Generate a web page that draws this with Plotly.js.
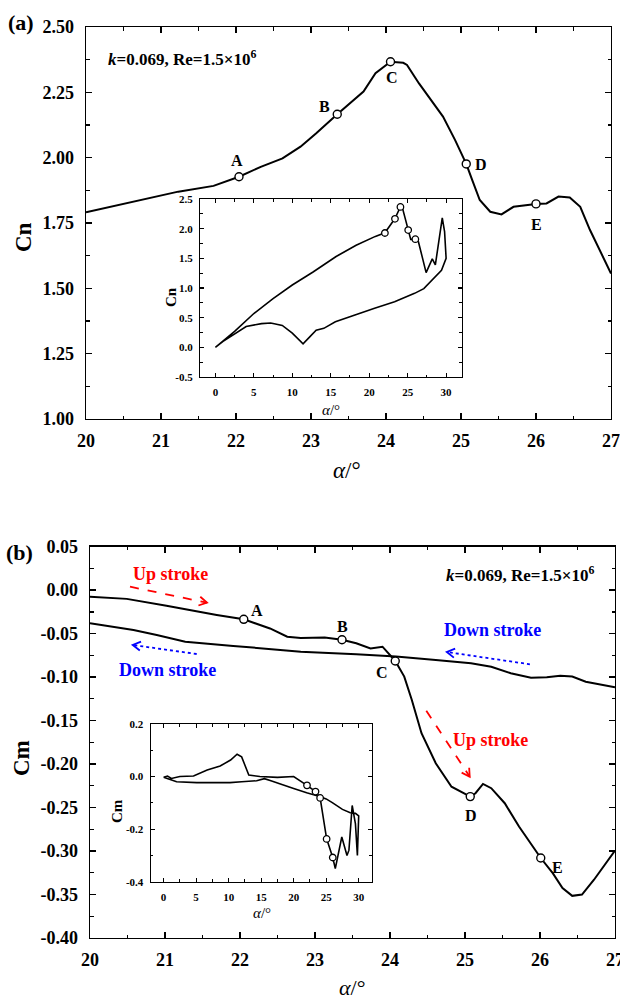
<!DOCTYPE html>
<html><head><meta charset="utf-8">
<script src="https://cdn.plot.ly/plotly-3.0.1.min.js"></script>
<style>html,body{margin:0;padding:0;background:#fff}#chart{width:620px;height:1000px}</style>
</head><body><div id="chart"></div>
<script>
// ---------- (a) main: Cn vs alpha (up stroke segment 20-27 deg) ----------
const cnAlpha = [20.0, 20.43, 20.96, 21.23, 21.70, 22.04, 22.33, 22.62, 22.86, 23.07, 23.35, 23.49, 23.70, 23.86, 23.97, 24.06, 24.23, 24.28, 24.44, 24.60, 24.76, 24.92, 25.07, 25.15, 25.25, 25.39, 25.54, 25.70, 25.88, 26.0, 26.14, 26.30, 26.45, 26.59, 26.72, 26.85, 27.0];
const cnValues = [1.791, 1.819, 1.851, 1.870, 1.892, 1.927, 1.965, 1.997, 2.042, 2.093, 2.166, 2.201, 2.253, 2.323, 2.348, 2.367, 2.363, 2.355, 2.284, 2.221, 2.157, 2.068, 1.976, 1.914, 1.838, 1.793, 1.783, 1.812, 1.819, 1.823, 1.825, 1.851, 1.848, 1.812, 1.723, 1.647, 1.557];
const pointLabels = ['A', 'B', 'C', 'D', 'E'];
const cnPointAlpha = [22.04, 23.35, 24.06, 25.07, 26.0];
const cnPointValues = [1.927, 2.166, 2.367, 1.976, 1.823];

// ---------- (a) inset: full Cn loop 0-30 deg ----------
const cnLoopAlpha = [0, 2.5, 5, 7.5, 10, 12.7, 15.7, 18.3, 20.8, 22.04, 23.35, 24.06, 24.3, 25.07, 25.4, 26.0, 26.4, 27.4, 28.2, 28.6, 29.5, 29.8, 30.0,
  29.4, 28.4, 27.1, 25.9, 23.3, 20.7, 18.2, 15.6, 14.1, 13.1, 12.3, 11.4, 10.0, 8.7, 7.2, 6.0, 4.0, 2.3, 1.0, 0];
const cnLoopValues = [0.0, 0.27, 0.57, 0.82, 1.05, 1.27, 1.53, 1.72, 1.87, 1.93, 2.17, 2.37, 2.36, 1.98, 1.82, 1.82, 1.78, 1.26, 1.49, 1.39, 2.18, 1.95, 1.50,
  1.30, 1.16, 0.99, 0.91, 0.77, 0.66, 0.55, 0.43, 0.32, 0.29, 0.18, 0.06, 0.24, 0.37, 0.41, 0.40, 0.35, 0.21, 0.10, 0.0];

// ---------- (b) main: Cm vs alpha ----------
const cmUpAlpha = [20.0, 20.49, 21.02, 21.42, 21.69, 22.05, 22.40, 22.63, 22.81, 23.13, 23.36, 23.55, 23.74, 23.90, 24.00, 24.07, 24.19, 24.29, 24.42, 24.61, 24.82, 25.07, 25.14, 25.24, 25.35, 25.53, 25.72, 25.88, 26.01, 26.17, 26.30, 26.43, 26.56, 26.72, 27.0];
const cmUpValues = [-0.0075, -0.010, -0.018, -0.0247, -0.0285, -0.0335, -0.044, -0.0535, -0.055, -0.0545, -0.057, -0.061, -0.067, -0.065, -0.0745, -0.0814, -0.0994, -0.126, -0.1645, -0.199, -0.226, -0.2374, -0.2335, -0.2228, -0.2277, -0.245, -0.2718, -0.291, -0.308, -0.3254, -0.3426, -0.3515, -0.350, -0.333, -0.2994];
const cmDownAlpha = [20.0, 20.58, 20.89, 21.27, 21.91, 22.81, 23.55, 24.08, 24.61, 25.08, 25.35, 25.61, 25.88, 26.09, 26.27, 26.43, 26.61, 27.0];
const cmDownValues = [-0.038, -0.0458, -0.0515, -0.0592, -0.0641, -0.0707, -0.0737, -0.0764, -0.0802, -0.084, -0.088, -0.0955, -0.1006, -0.100, -0.0983, -0.0994, -0.1052, -0.1116];
const cmPointAlpha = [22.05, 23.36, 24.07, 25.07, 26.01];
const cmPointValues = [-0.0335, -0.057, -0.0814, -0.2374, -0.308];

// ---------- (b) inset: full Cm loop 0-30 deg ----------
const cmLoopAlpha = [0, 0.6, 1.2, 2.5, 4.6, 6.7, 8.7, 10.3, 11.3, 12.0, 13.1, 14.8, 17.5, 20.0, 22.05, 23.36, 24.07, 24.5, 25.07, 26.01, 26.4, 27.4, 28.2, 28.5, 29.0, 29.5, 29.8, 30.0,
  29.5, 28.7, 27.5, 26.0, 25.0, 24.0, 22.0, 20.0, 18.0, 16.5, 15.5, 14.3, 12.0, 10.2, 7.0, 5.1, 2.0, 0];
const cmLoopValues = [-0.003, 0.002, -0.007, 0.0, 0.002, 0.025, 0.040, 0.063, 0.085, 0.075, 0.006, 0.0, -0.003, 0.0, -0.0335, -0.057, -0.081, -0.15, -0.237, -0.308, -0.35, -0.23, -0.30, -0.28, -0.11, -0.18, -0.30, -0.15,
  -0.14, -0.138, -0.125, -0.10, -0.085, -0.076, -0.062, -0.045, -0.03, -0.016, -0.008, -0.016, -0.02, -0.023, -0.023, -0.023, -0.02, -0.003];

// ---------- tick labels ----------
const alphaTicks = [20, 21, 22, 23, 24, 25, 26, 27];
const cnTicks = [1.00, 1.25, 1.50, 1.75, 2.00, 2.25, 2.50];
const cnTickText = ['1.00', '1.25', '1.50', '1.75', '2.00', '2.25', '2.50'];
const cmTicks = [-0.40, -0.35, -0.30, -0.25, -0.20, -0.15, -0.10, -0.05, 0.00, 0.05];
const cmTickText = ['-0.40', '-0.35', '-0.30', '-0.25', '-0.20', '-0.15', '-0.10', '-0.05', '0.00', '0.05'];
const insetAlphaTicks = [0, 5, 10, 15, 20, 25, 30];
const insetCnTicks = [-0.5, 0.0, 0.5, 1.0, 1.5, 2.0, 2.5];
const insetCnTickText = ['-0.5', '0.0', '0.5', '1.0', '1.5', '2.0', '2.5'];
const insetCmTicks = [-0.4, -0.2, 0.0, 0.2];
const insetCmTickText = ['-0.4', '-0.2', '0.0', '0.2'];

// ---------- helpers ----------
const W = 620, H = 1000;
const PX = x => x / W;
const PY = y => 1 - y / H;
const FONT = 'Liberation Serif, Times New Roman, serif';

function axis(o) {
  const big = o.big;
  const a = {
    domain: o.domain, range: o.range, anchor: o.anchor,
    showline: true, linecolor: '#000', linewidth: big ? 1.4 : 1.1, mirror: 'ticks',
    ticks: 'inside', tickcolor: '#000', tickwidth: big ? 1.4 : 1.1, ticklen: big ? 6 : 4,
    showgrid: false, zeroline: false, fixedrange: true,
    tickfont: {family: FONT, size: big ? 18 : 11, color: '#000', weight: 'bold'},
    ticklabelstandoff: o.standoff,
    ticklabeloverflow: 'allow',
    minor: {dtick: o.minor, tick0: o.minorTick0, ticks: 'inside', ticklen: big ? 3.5 : 2.5, tickwidth: big ? 1.2 : 1, tickcolor: '#000', showgrid: false}
  };
  if (o.tickvals) { a.tickmode = 'array'; a.tickvals = o.tickvals; a.ticktext = o.ticktext || o.tickvals.map(String); }
  return a;
}

const traces = [
  {x: cnAlpha, y: cnValues, xaxis: 'x', yaxis: 'y', mode: 'lines', line: {color: '#000', width: 2}, hoverinfo: 'skip'},
  {x: cnPointAlpha, y: cnPointValues, xaxis: 'x', yaxis: 'y', mode: 'markers', marker: {size: 8, color: '#fff', line: {color: '#000', width: 1.4}}, hoverinfo: 'skip'},
  {x: cnLoopAlpha, y: cnLoopValues, xaxis: 'x2', yaxis: 'y2', mode: 'lines', line: {color: '#000', width: 1.6}, hoverinfo: 'skip'},
  {x: cnPointAlpha, y: cnPointValues, xaxis: 'x2', yaxis: 'y2', mode: 'markers', marker: {size: 6.5, color: '#fff', line: {color: '#000', width: 1.3}}, hoverinfo: 'skip'},
  {x: cmUpAlpha, y: cmUpValues, xaxis: 'x3', yaxis: 'y3', mode: 'lines', line: {color: '#000', width: 2}, hoverinfo: 'skip'},
  {x: cmDownAlpha, y: cmDownValues, xaxis: 'x3', yaxis: 'y3', mode: 'lines', line: {color: '#000', width: 2}, hoverinfo: 'skip'},
  {x: cmPointAlpha, y: cmPointValues, xaxis: 'x3', yaxis: 'y3', mode: 'markers', marker: {size: 8, color: '#fff', line: {color: '#000', width: 1.4}}, hoverinfo: 'skip'},
  {x: cmLoopAlpha, y: cmLoopValues, xaxis: 'x4', yaxis: 'y4', mode: 'lines', line: {color: '#000', width: 1.6}, hoverinfo: 'skip'},
  {x: cmPointAlpha, y: cmPointValues, xaxis: 'x4', yaxis: 'y4', mode: 'markers', marker: {size: 6.5, color: '#fff', line: {color: '#000', width: 1.3}}, hoverinfo: 'skip'}
];

// annotations (positions in page pixels, converted to paper coords)
function txt(s, x, y, o) {
  o = o || {};
  return {text: s, x: PX(x), y: PY(y), xref: 'paper', yref: 'paper', showarrow: false,
    xanchor: o.xanchor || 'center', yanchor: 'middle', textangle: o.angle || 0,
    font: {family: FONT, size: o.size || 16, color: o.color || '#000', weight: o.weight || 'bold'}};
}
const annotations = [
  txt('(a)', 21, 22, {size: 22}),
  txt('(b)', 19, 552, {size: 22}),
  txt('<i>k</i>=0.069, Re=1.5×10<sup>6</sup>', 106, 58, {size: 17, xanchor: 'left'}),
  txt('<i>k</i>=0.069, Re=1.5×10<sup>6</sup>', 596, 574, {size: 17, xanchor: 'right'}),
  txt('Cn', 23, 237, {size: 23, angle: -90}),
  txt('Cm', 21, 758, {size: 23, angle: -90}),
  txt('<i>α</i>/°', 347, 470, {size: 23, weight: 'normal'}),
  txt('<i>α</i>/°', 352, 987, {size: 22, weight: 'normal'}),
  txt('Cn', 171, 297, {size: 15, angle: -90}),
  txt('<i>α</i>/°', 331, 410, {size: 15, weight: 'normal'}),
  txt('Cm', 117, 811, {size: 15, angle: -90}),
  txt('<i>α</i>/°', 262, 913, {size: 15, weight: 'normal'}),
  // point letters (a)
  txt(pointLabels[0], 237, 160), txt(pointLabels[1], 324, 107), txt(pointLabels[2], 392, 78),
  txt(pointLabels[3], 481, 164), txt(pointLabels[4], 536, 225),
  // point letters (b)
  txt(pointLabels[0], 257, 610), txt(pointLabels[1], 342, 626), txt(pointLabels[2], 382, 672),
  txt(pointLabels[3], 471, 815), txt(pointLabels[4], 557, 867),
  // stroke labels
  txt('Up stroke', 170.5, 573.5, {size: 18, color: '#ff0000'}),
  txt('Down stroke', 167, 670, {size: 18, color: '#0000ff'}),
  txt('Down stroke', 492, 629.5, {size: 18, color: '#0000ff'}),
  txt('Up stroke', 490, 739.5, {size: 18, color: '#ff0000'})
];

function arrow(x0, y0, x1, y1, color, dash) {
  const dx = x1 - x0, dy = y1 - y0, L = Math.hypot(dx, dy);
  const ux = dx / L, uy = dy / L, h = 9, a = Math.PI / 6;
  const rot = (t) => [ux * Math.cos(t) - uy * Math.sin(t), ux * Math.sin(t) + uy * Math.cos(t)];
  const r1 = rot(a), r2 = rot(-a);
  const p1 = [x1 - h * r1[0], y1 - h * r1[1]], p2 = [x1 - h * r2[0], y1 - h * r2[1]];
  return [
    {type: 'line', xref: 'paper', yref: 'paper', x0: PX(x0), y0: PY(y0), x1: PX(x1), y1: PY(y1), line: {color: color, width: 1.8, dash: dash}},
    {type: 'path', xref: 'paper', yref: 'paper', path: `M ${PX(p1[0])} ${PY(p1[1])} L ${PX(x1)} ${PY(y1)} L ${PX(p2[0])} ${PY(p2[1])}`, line: {color: color, width: 1.8}}
  ];
}
const shapes = [].concat(
  arrow(130, 586.7, 207, 602.7, '#ff0000', 'dash'),
  arrow(196.7, 654, 132.7, 645, '#0000ff', 'dot'),
  arrow(529.9, 664.3, 446.8, 652, '#0000ff', 'dot'),
  arrow(426.3, 710.7, 469.7, 776.7, '#ff0000', 'dash')
);

const layout = {
  width: W, height: H, margin: {l: 0, r: 0, t: 0, b: 0},
  paper_bgcolor: '#fff', plot_bgcolor: 'rgba(0,0,0,0)', showlegend: false,
  xaxis: axis({big: true, domain: [PX(86), PX(611)], range: [20, 27], anchor: 'y', tickvals: alphaTicks, minor: 0.5, minorTick0: 20, standoff: 5}),
  yaxis: axis({big: true, domain: [PY(419), PY(27)], range: [1, 2.5], anchor: 'x', tickvals: cnTicks, ticktext: cnTickText, minor: 0.125, minorTick0: 1, standoff: 7}),
  xaxis2: axis({big: false, domain: [PX(200), PX(461.5)], range: [-2, 32], anchor: 'y2', tickvals: insetAlphaTicks, minor: 2.5, minorTick0: 0, standoff: 5}),
  yaxis2: axis({big: false, domain: [PY(377), PY(199)], range: [-0.5, 2.5], anchor: 'x2', tickvals: insetCnTicks, ticktext: insetCnTickText, minor: 0.25, minorTick0: 0, standoff: 4}),
  xaxis3: axis({big: true, domain: [PX(90), PX(615)], range: [20, 27], anchor: 'y3', tickvals: alphaTicks, minor: 0.5, minorTick0: 20, standoff: 5}),
  yaxis3: axis({big: true, domain: [PY(938), PY(546.7)], range: [-0.4, 0.05], anchor: 'x3', tickvals: cmTicks, ticktext: cmTickText, minor: 0.025, minorTick0: 0, standoff: 7}),
  xaxis4: axis({big: false, domain: [PX(150.6), PX(371.7)], range: [-2, 32], anchor: 'y4', tickvals: insetAlphaTicks, minor: 2.5, minorTick0: 0, standoff: 5}),
  yaxis4: axis({big: false, domain: [PY(881.7), PY(724)], range: [-0.4, 0.2], anchor: 'x4', tickvals: insetCmTicks, ticktext: insetCmTickText, minor: 0.1, minorTick0: 0, standoff: 4}),
  annotations: annotations,
  shapes: shapes
};

Plotly.newPlot('chart', traces, layout, {staticPlot: true, displayModeBar: false});
</script>
</body></html>
